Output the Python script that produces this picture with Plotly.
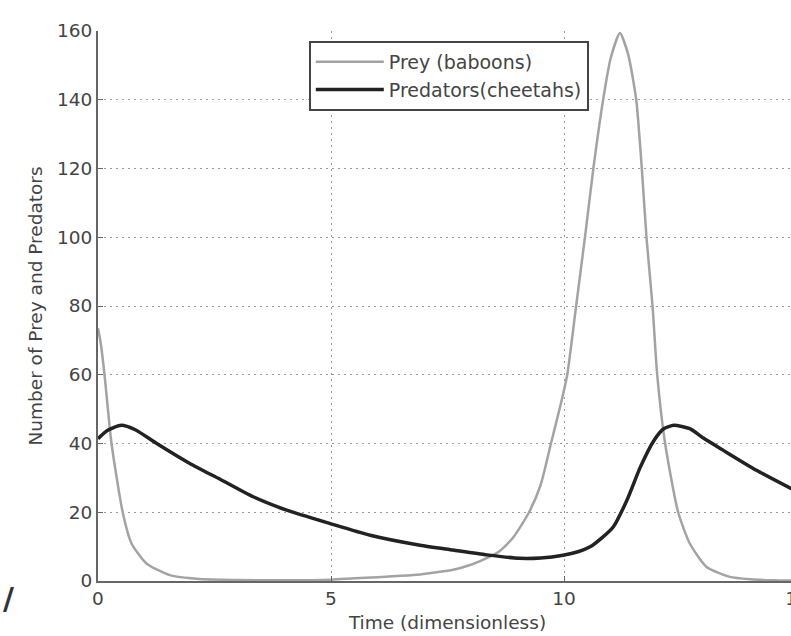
import plotly.graph_objects as go

# ---- data ----
prey_t = [0, 0.06, 0.14, 0.29, 0.53, 0.72, 1.04, 1.54, 2.17, 3.0, 4.0, 5.0, 5.5, 6.0,
          6.5, 6.91, 7.3, 7.62, 7.9, 8.2, 8.6, 8.9, 9.25, 9.5, 9.72, 9.94, 10.07, 10.26,
          10.45, 10.63, 10.84, 11.0, 11.2, 11.38, 11.55, 11.67, 11.77, 11.9, 12.0, 12.17,
          12.45, 12.7, 13.06, 13.56, 14.0, 14.5, 15.0]
prey = [73.5, 69, 60, 40, 20, 10.9, 5.1, 1.7, 0.6, 0.3, 0.2, 0.4, 0.8, 1.1,
        1.5, 1.9, 2.6, 3.3, 4.3, 5.8, 8.5, 12.5, 20, 28, 40, 52, 60, 80,
        100, 120, 140, 152, 159.4, 153, 140, 120, 100, 80, 60, 40,
        20, 10.9, 4.1, 1.2, 0.5, 0.2, 0.1]

pred_t = [0, 0.2, 0.5, 0.8, 1.26, 1.97, 2.62, 3.33, 4.05, 4.98, 5.84, 6.91, 7.62, 8.34,
          9.04, 9.5, 9.98, 10.3, 10.56, 10.8, 11.06, 11.35, 11.64, 11.93, 12.14, 12.36,
          12.7, 13.0, 13.42, 14.13, 14.87, 15.0]
pred = [41.4, 43.8, 45.3, 44.0, 40, 34.2, 29.6, 24.5, 20.6, 16.7, 13.3, 10.4, 9.0, 7.6,
        6.6, 6.7, 7.5, 8.5, 9.95, 12.4, 15.8, 23.5, 33.2, 40.9, 44.3, 45.3,
        44.3, 41.5, 38, 32.2, 26.9, 26.0]

x_ticks = [0, 5, 10, 15]
y_ticks = [0, 20, 40, 60, 80, 100, 120, 140, 160]

FONT = "DejaVu Sans, Verdana, sans-serif"
FS = 18.5

fig = go.Figure()
fig.add_trace(go.Scatter(x=prey_t, y=prey, mode="lines", name="Prey (baboons)",
                         line=dict(color="#a3a3a3", width=2.5, shape="spline", smoothing=0.6)))
fig.add_trace(go.Scatter(x=pred_t, y=pred, mode="lines", name="Predators(cheetahs)",
                         line=dict(color="#222222", width=3.5, shape="spline", smoothing=0.6)))

# the figure is slightly wider than the window: the reference is cropped at x≈14.9
fig.update_layout(
    width=797, height=636,
    margin=dict(l=98, r=0, t=31, b=55, autoexpand=False),
    paper_bgcolor="white", plot_bgcolor="white",
    font=dict(family=FONT, size=FS, color="#444"),
    showlegend=True,
    legend=dict(x=0.3016, y=0.982, xanchor="left", yanchor="top",
                bgcolor="white", bordercolor="#444", borderwidth=2,
                font=dict(family=FONT, size=19, color="#444"),
                itemwidth=68, tracegroupgap=0),
    xaxis=dict(range=[0, 15], tickmode="array", tickvals=x_ticks,
               ticktext=[str(v) for v in x_ticks], ticklabeloverflow="allow",
               showline=True, linecolor="#666", linewidth=2,
               ticks="inside", ticklen=5, tickcolor="#666", tickwidth=1,
               showgrid=True, gridcolor="#9a9a9a", gridwidth=1, griddash="2px,4px",
               zeroline=False, automargin=False,
               title=dict(text="Time (dimensionless)", standoff=8,
                          font=dict(family=FONT, size=FS, color="#444"))),
    yaxis=dict(range=[0, 160], tickmode="array", tickvals=y_ticks,
               showline=True, linecolor="#666", linewidth=2,
               ticks="inside", ticklen=5, tickcolor="#666", tickwidth=1,
               showgrid=True, gridcolor="#9a9a9a", gridwidth=1, griddash="2px,4px",
               zeroline=False, automargin=False,
               title=dict(text="Number of Prey and Predators", standoff=10,
                          font=dict(family=FONT, size=FS, color="#444"))),
)

# stray scan mark at the bottom-left corner
fig.add_annotation(x=-0.1385, xref="paper", xanchor="left",
                   y=0.003, yref="paper", yanchor="top",
                   text="<b>/</b>", showarrow=False,
                   font=dict(family=FONT, size=30, color="#333"))

fig.write_html("out.html", config={"displayModeBar": False},
               post_script="document.body.style.margin='0';"
                           "document.body.style.overflow='hidden';"
                           "document.documentElement.style.overflow='hidden';")
